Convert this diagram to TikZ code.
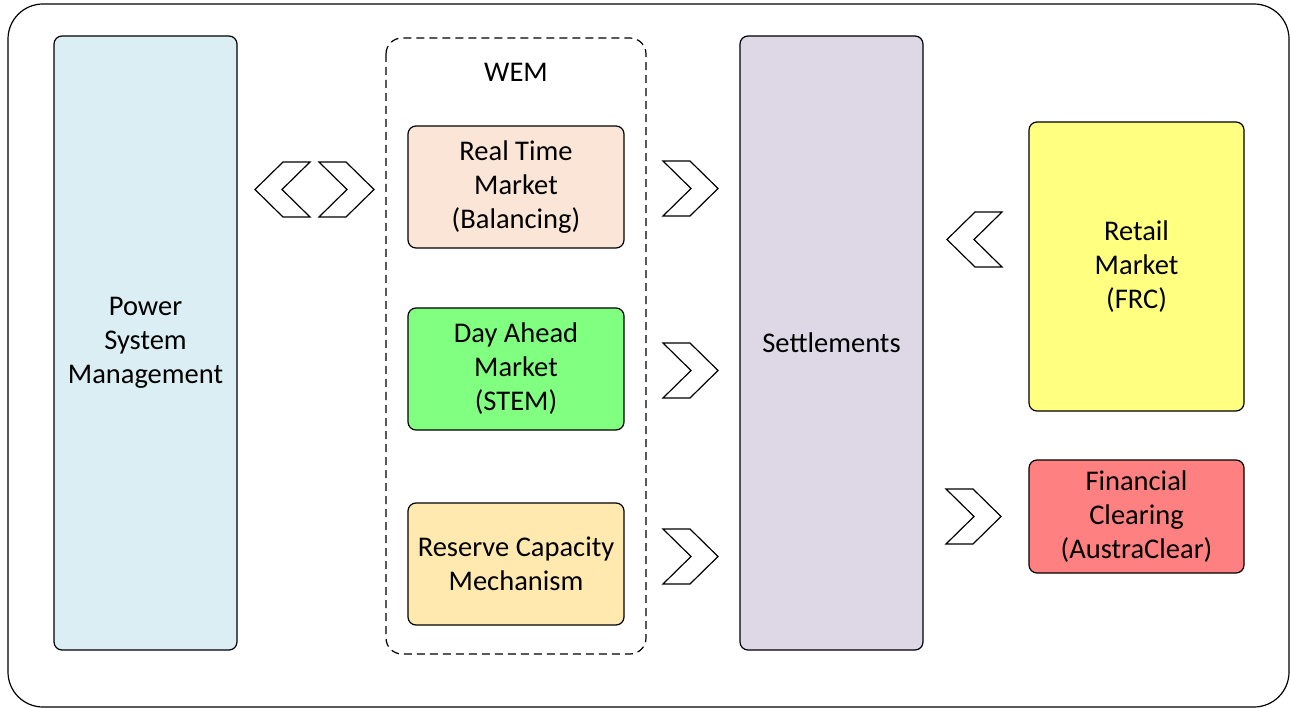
\documentclass[tikz,border=0pt]{standalone}
\usepackage{fontspec}
\setmainfont{Carlito}
\definecolor{psm}{HTML}{DAEEF3}
\definecolor{rtm}{HTML}{FBE5D6}
\definecolor{dam}{HTML}{80FF80}
\definecolor{rcm}{HTML}{FFE9AE}
\definecolor{set}{HTML}{DDD7E6}
\definecolor{ret}{HTML}{FFFF80}
\definecolor{fin}{HTML}{FF8080}
\tikzset{
  box/.style={draw=black, line width=1.2pt, rounded corners=8pt, align=center,
    font=\fontsize{28.5}{34}\selectfont, inner sep=0pt},
  chev/.style={draw=black, line width=1.2pt, fill=white, line join=miter},
}
\newcommand{\chevR}[2]{\draw[chev] (#1,#2) -- ++(27,0) -- ++(28,27.5) -- ++(-28,27.5) -- ++(-27,0) -- ++(28,-27.5) -- cycle;}
\newcommand{\chevL}[2]{\draw[chev] (#1+55,#2) -- ++(-27,0) -- ++(-28,27.5) -- ++(28,27.5) -- ++(27,0) -- ++(-28,-27.5) -- cycle;}
\begin{document}
\begin{tikzpicture}[x=1pt,y=-1pt]
\useasboundingbox (0,0) rectangle (1290,708);
\draw[line width=1.2pt, rounded corners=35pt] (8,4) rectangle (1289,707);
% WEM container
\draw[line width=1.2pt, dashed, dash pattern=on 8pt off 5pt, rounded corners=16pt] (386,38) rectangle (646,654);
\node[font=\fontsize{28.5}{34}\selectfont] (wem) at (516,72) {WEM};
% boxes
\node[box, fill=psm, minimum width=183pt, minimum height=614pt] (psm) at (145.5,343) {Power\\System\\Management};
\node[box, fill=rtm, minimum width=216pt, minimum height=122pt] (rt) at (516,187) {Real Time\\Market\\(Balancing)};
\node[box, fill=dam, minimum width=216pt, minimum height=122pt] (da) at (516,369) {Day Ahead\\Market\\(STEM)};
\node[box, fill=rcm, minimum width=216pt, minimum height=122pt] (rc) at (516,564) {Reserve Capacity\\Mechanism};
\node[box, fill=set, minimum width=183pt, minimum height=614pt] (st) at (831.5,343) {Settlements};
\node[box, fill=ret, minimum width=215pt, minimum height=289pt] (rm) at (1136.5,266.5) {Retail\\Market\\(FRC)};
\node[box, fill=fin, minimum width=215pt, minimum height=113pt] (fc) at (1136.5,516.5) {Financial\\Clearing\\(AustraClear)};
% chevrons
\chevL{255}{162}
\chevR{319}{162}
\chevR{663}{161}
\chevR{663}{343}
\chevR{663}{529}
\chevL{947}{212}
\chevR{946}{489}
\end{tikzpicture}
\end{document}
